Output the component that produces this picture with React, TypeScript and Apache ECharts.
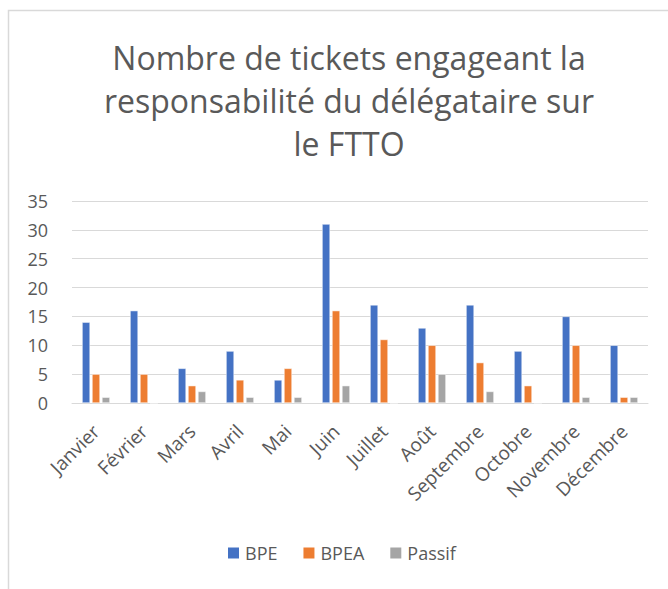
import React, { useEffect, useRef } from "react";
import * as echarts from "echarts";

const categories = ["Janvier", "Février", "Mars", "Avril", "Mai", "Juin", "Juillet", "Août", "Septembre", "Octobre", "Novembre", "Décembre"];
const bpe = [14, 16, 6, 9, 4, 31, 17, 13, 17, 9, 15, 10];
const bpea = [5, 5, 3, 4, 6, 16, 11, 10, 7, 3, 10, 1];
const passif = [1, 0, 2, 1, 1, 3, 0, 5, 2, 0, 1, 1];
const yTicks = [0, 5, 10, 15, 20, 25, 30, 35];

const FONT = "'Open Sans', 'Noto Sans', sans-serif";

export default function App() {
  const ref = useRef<HTMLDivElement>(null);
  useEffect(() => {
    if (!ref.current) return;
    const chart = echarts.init(ref.current, null, { renderer: "svg" });
    const barStyle = (color: string) => ({
      color,
      borderColor: "#ffffff",
      borderWidth: 0.5,
    });
    chart.setOption({
      animation: false,
      backgroundColor: "#ffffff",
      graphic: [
        {
          type: "rect",
          shape: { x: 8.5, y: 10.5, width: 800, height: 800 },
          style: { fill: "none", stroke: "#d9d9d9", lineWidth: 1.5 },
          silent: true,
        },
      ],
      title: {
        text: "Nombre de tickets engageant la\nresponsabilité du délégataire sur\nle FTTO",
        left: 344,
        textAlign: "center",
        top: 31,
        textStyle: {
          fontFamily: FONT,
          fontSize: 32,
          fontWeight: "normal",
          color: "#595959",
          lineHeight: 43,
        },
      },
      legend: {
        bottom: 22,
        left: 221,
        itemWidth: 13,
        itemHeight: 13,
        itemGap: 24,
        icon: "rect",
        textStyle: { fontFamily: FONT, fontSize: 18, color: "#595959" },
        data: ["BPE", "BPEA", "Passif"],
      },
      grid: { left: 72, right: 20, top: 201, bottom: 186, containLabel: false },
      xAxis: {
        type: "category",
        data: categories,
        axisLine: { lineStyle: { color: "#d9d9d9", width: 1 } },
        axisTick: { show: false },
        axisLabel: {
          rotate: 45,
          interval: 0,
          fontFamily: FONT,
          fontSize: 19,
          color: "#595959",
          margin: 25,
        },
      },
      yAxis: {
        type: "value",
        min: 0,
        max: 35,
        interval: 5,
        axisLine: { show: false },
        axisTick: { show: false },
        splitLine: { lineStyle: { color: "#d9d9d9", width: 1 } },
        axisLabel: {
          fontFamily: FONT,
          fontSize: 18,
          color: "#595959",
          margin: 24,
          formatter: (v: number) => (yTicks.includes(v) ? String(v) : ""),
        },
      },
      series: [
        { name: "BPE", type: "bar", data: bpe, itemStyle: barStyle("#4472c4"), barGap: "25%", barCategoryGap: "42%" },
        { name: "BPEA", type: "bar", data: bpea, itemStyle: barStyle("#ed7d31") },
        { name: "Passif", type: "bar", data: passif, itemStyle: barStyle("#a5a5a5") },
      ],
    });
    return () => chart.dispose();
  }, []);
  return (
    <div
      ref={ref}
      style={{ position: "fixed", left: 0, top: 0, width: 668, height: 589 }}
    />
  );
}
